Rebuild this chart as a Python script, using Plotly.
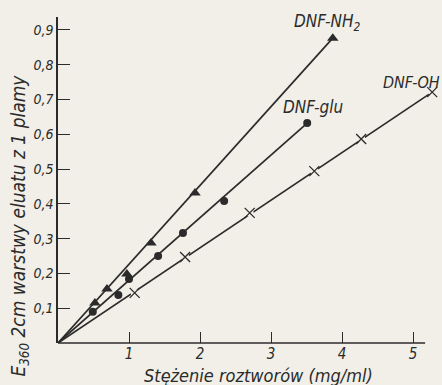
import plotly.graph_objects as go

# ---- data ----
nh2_x = [0.52, 0.69, 0.97, 1.31, 1.93, 3.87]
nh2_y = [0.115, 0.155, 0.198, 0.287, 0.431, 0.876]

glu_x = [0.49, 0.85, 1.00, 1.41, 1.76, 2.34, 3.51]
glu_y = [0.090, 0.138, 0.184, 0.250, 0.316, 0.408, 0.632]

oh_x = [1.08, 1.79, 2.70, 3.61, 4.27, 5.27]
oh_y = [0.144, 0.247, 0.374, 0.494, 0.586, 0.721]

x_ticks = [1, 2, 3, 4, 5]
x_tick_text = ["1", "2", "3", "4", "5"]
y_ticks = [0.1, 0.2, 0.3, 0.4, 0.5, 0.6, 0.7, 0.8, 0.9]
y_tick_text = ["0,1", "0,2", "0,3", "0,4", "0,5", "0,6", "0,7", "0,8", "0,9"]

series_names = ["DNF-NH<sub>2</sub>", "DNF-glu", "DNF-OH"]

BG = "#f1efe7"
INK = "#2b2b2b"
FONT = "DejaVu Sans Condensed, Liberation Sans Narrow, sans-serif"

fig = go.Figure()

# lines from origin to last point
for xs, ys in [(nh2_x, nh2_y), (glu_x, glu_y), (oh_x, oh_y)]:
    fig.add_trace(go.Scatter(x=[0, xs[-1]], y=[0, ys[-1]], mode="lines",
                             line=dict(color=INK, width=1.7), showlegend=False,
                             hoverinfo="skip"))

fig.add_trace(go.Scatter(x=nh2_x, y=nh2_y, mode="markers",
                         marker=dict(symbol="triangle-up", size=10, color=INK),
                         showlegend=False, cliponaxis=False))
fig.add_trace(go.Scatter(x=glu_x, y=glu_y, mode="markers",
                         marker=dict(symbol="circle", size=8, color=INK),
                         showlegend=False, cliponaxis=False))
# gaps in the line around crosses
fig.add_trace(go.Scatter(x=oh_x, y=oh_y, mode="markers",
                         marker=dict(symbol="circle", size=8, color=BG),
                         showlegend=False, cliponaxis=False))
fig.add_trace(go.Scatter(x=oh_x, y=oh_y, mode="markers",
                         marker=dict(symbol="x-thin", size=10,
                                     line=dict(color=INK, width=1.3)),
                         showlegend=False, cliponaxis=False))

italic = dict(family=FONT, color=INK, style="italic")

fig.add_annotation(x=3.80, y=0.92, xref="x", yref="y", text=series_names[0],
                   showarrow=False, font=dict(size=17, **italic))
fig.add_annotation(x=3.59, y=0.678, xref="x", yref="y", text=series_names[1],
                   showarrow=False, font=dict(size=17, **italic))
fig.add_annotation(x=0.999, y=0.75, xref="paper", yref="y", text=series_names[2],
                   showarrow=False, xanchor="right", font=dict(size=16, **italic))

# axis titles
fig.add_annotation(x=0.521, y=-0.101, xref="paper", yref="paper",
                   text="Stężenie roztworów (mg/ml)", showarrow=False,
                   yanchor="middle", font=dict(size=18, **italic))
fig.add_annotation(x=-0.099, y=0.36, xref="paper", yref="paper",
                   text="E<sub>360</sub> 2cm warstwy eluatu z 1 plamy",
                   textangle=-90, showarrow=False, xanchor="center",
                   yanchor="middle", font=dict(size=19, **italic))

# x axis line (shorter than plot area)
fig.add_shape(type="line", xref="paper", yref="paper", x0=0, x1=0.956, y0=0, y1=0,
              line=dict(color=INK, width=1.5))

fig.update_layout(
    width=442, height=385,
    margin=dict(l=58, r=0, t=17, b=42),
    paper_bgcolor=BG, plot_bgcolor=BG,
    showlegend=False,
)
fig.update_xaxes(range=[0, 384 / 71], tickvals=x_ticks, ticktext=x_tick_text,
                 ticks="inside", ticklen=11, tickwidth=1.3, tickcolor=INK,
                 showgrid=False, zeroline=False, showline=False,
                 tickfont=dict(size=15, **italic))
fig.update_yaxes(range=[0, 326 / 348], tickvals=y_ticks, ticktext=y_tick_text,
                 ticks="inside", ticklen=12, tickwidth=1.3, tickcolor=INK,
                 showgrid=False, zeroline=False, showline=True,
                 linecolor=INK, linewidth=1.5,
                 tickfont=dict(size=14, **italic))

fig.write_html("out.html")
